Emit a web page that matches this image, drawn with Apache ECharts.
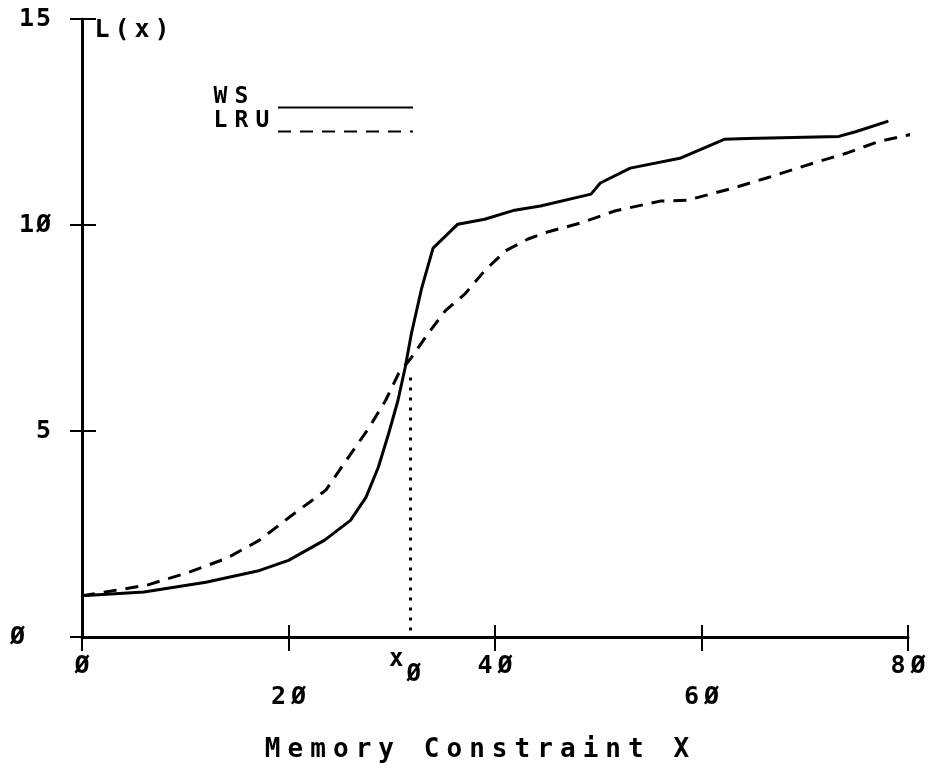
<!DOCTYPE html>
<html>
<head>
<meta charset="utf-8">
<script src="https://cdn.jsdelivr.net/npm/echarts@6/dist/echarts.min.js"></script>
<style>html,body{margin:0;padding:0;background:#fff;}#c{width:931px;height:774px;}</style>
</head>
<body>
<div id="c"></div>
<script>
// Data
const wsX = [0, 6, 12, 17, 20, 23.5, 26, 27.5, 28.7, 29.7, 30.6, 31.3, 31.9, 32.9, 34, 36.4, 39, 41.9, 44.4, 49.3, 50.2, 53.1, 57.9, 62.2, 64.4, 73.3, 75, 78.1];
const wsY = [1.0, 1.09, 1.33, 1.6, 1.86, 2.35, 2.83, 3.39, 4.12, 4.94, 5.74, 6.54, 7.36, 8.47, 9.44, 10.02, 10.14, 10.36, 10.46, 10.75, 11.02, 11.38, 11.62, 12.08, 12.1, 12.15, 12.27, 12.52];
const lruX = [0, 6.3, 10.1, 14, 17.2, 20.3, 23.6, 25.8, 27.8, 29.4, 30.65, 31.9, 33.5, 35.2, 37.1, 39.0, 41.0, 43.2, 44.8, 48.3, 51.6, 56.0, 58.6, 62.7, 66.3, 70.8, 74.0, 77.2, 80.3];
const lruY = [1.0, 1.26, 1.55, 1.91, 2.35, 2.95, 3.56, 4.36, 5.08, 5.74, 6.39, 6.78, 7.36, 7.92, 8.33, 8.89, 9.37, 9.66, 9.81, 10.05, 10.34, 10.58, 10.6, 10.87, 11.14, 11.5, 11.74, 12.03, 12.2];
const x0 = 31.8;
const x0Top = 6.3;
const xTickLabels = {0: 'Ø', 20: '2Ø', 40: '4Ø', 60: '6Ø', 80: '8Ø'};
const yTickLabels = {0: 'Ø', 5: '5', 10: '1Ø', 15: '15'};
const seriesNames = ['WS', 'LRU'];
const xTitle = 'Memory Constraint X';
const yTitle = 'L(x)';

const FONT = 'DejaVu Sans Mono';
const zip = (a, b) => a.map((v, i) => [v, b[i]]);
// wide "plotter" lettering: each character in its own fixed-width cell
const cells = (s, key) => Array.from(s).map(ch => '{' + key + '|' + (ch === ' ' ? '\u00a0' : ch) + '}').join('');
const cell = (size, w, extra) => Object.assign({fontFamily: FONT, fontWeight: 'bold', fontSize: size, color: '#000', width: w, align: 'center'}, extra || {});

const LEG_CELL = 21;
function legendFor(name, top) {
  return {
    data: [name],
    orient: 'vertical',
    left: 210,
    top: top,
    padding: 0,
    align: 'right',
    itemWidth: 135,
    itemHeight: 12,
    itemStyle: {opacity: 0},
    formatter: n => cells(n, 'n') + (n.length < 3 ? '{s|\u00a0}' : ''),
    textStyle: {
      color: '#000', padding: [0, 0, 20, 0],
      rich: {n: cell(23, LEG_CELL, {lineHeight: 22}), s: cell(23, LEG_CELL * (3 - name.length), {lineHeight: 22})}
    }
  };
}

const chart = echarts.init(document.getElementById('c'), null, {renderer: 'canvas'});
const option = {
  backgroundColor: '#fff',
  animation: false,
  grid: {left: 82, right: 19, top: 19, bottom: 137},
  legend: [legendFor(seriesNames[0], 86), legendFor(seriesNames[1], 110)],
  xAxis: [{
    type: 'value', min: 0, max: 80, interval: 20,
    name: cells(xTitle, 't'), nameLocation: 'middle', nameGap: 100,
    nameTextStyle: {padding: [0, 36, 0, 0], rich: {t: cell(26, 22.7)}},
    axisLine: {show: true, lineStyle: {color: '#000', width: 3}},
    axisTick: {show: true, length: 14, lineStyle: {color: '#000', width: 2}},
    splitLine: {show: false},
    axisLabel: {
      margin: 14,
      formatter: v => (v % 40 === 20 ? '{e| }\n' : '') + cells(xTickLabels[v] || '', 'c'),
      rich: {c: cell(25, 20, {lineHeight: 31}), e: {lineHeight: 31, fontSize: 10}}
    }
  }, {
    type: 'value', min: 0, max: 80, interval: 20, position: 'bottom',
    axisLine: {show: false},
    axisTick: {show: true, inside: true, length: 12, lineStyle: {color: '#000', width: 2}},
    axisLabel: {show: false}, splitLine: {show: false}
  }],
  yAxis: [{
    type: 'value', min: 0, max: 15, interval: 5,
    name: cells(yTitle, 'l'), nameLocation: 'end', nameGap: 0,
    nameTextStyle: {align: 'left', verticalAlign: 'top', padding: [0, 0, 0, 10], rich: {l: cell(25, 20, {lineHeight: 22})}},
    axisLine: {show: true, lineStyle: {color: '#000', width: 3}},
    axisTick: {show: true, length: 12, lineStyle: {color: '#000', width: 2}},
    splitLine: {show: false},
    axisLabel: {
      margin: 30,
      formatter: v => v === 0 ? '{z|' + yTickLabels[v] + '}' : cells(yTickLabels[v] || '', 'c'),
      rich: {c: cell(25, 17), z: cell(25, 17, {padding: [0, 26, 0, 0]})}
    }
  }, {
    type: 'value', min: 0, max: 15, interval: 5, position: 'left',
    axisLine: {show: false},
    axisTick: {show: true, inside: true, length: 14, lineStyle: {color: '#000', width: 2}},
    axisLabel: {show: false}, splitLine: {show: false}
  }],
  series: [{
    name: seriesNames[0], type: 'line', data: zip(wsX, wsY), symbol: 'none', smooth: false,
    xAxisIndex: 0, yAxisIndex: 0,
    lineStyle: {color: '#000', width: 3, type: 'solid'}, itemStyle: {color: '#000'}
  }, {
    name: seriesNames[1], type: 'line', data: zip(lruX, lruY), symbol: 'none', smooth: false, clip: false,
    xAxisIndex: 0, yAxisIndex: 0,
    lineStyle: {color: '#000', width: 3, type: [13, 9]}, itemStyle: {color: '#000'},
    markLine: {
      silent: true, symbol: 'none',
      lineStyle: {color: '#000', width: 3, type: [3, 7]},
      label: {
        show: true, position: 'end', distance: 8,
        formatter: '{x|x}{o|Ø}',
        rich: {
          x: cell(24, 17, {padding: [0, 0, 12, 0]}),
          o: cell(24, 18, {padding: [18, 10, 0, 0]})
        }
      },
      data: [[{coord: [x0, x0Top]}, {coord: [x0, 0]}]]
    }
  }]
};
chart.setOption(option);
</script>
</body>
</html>
